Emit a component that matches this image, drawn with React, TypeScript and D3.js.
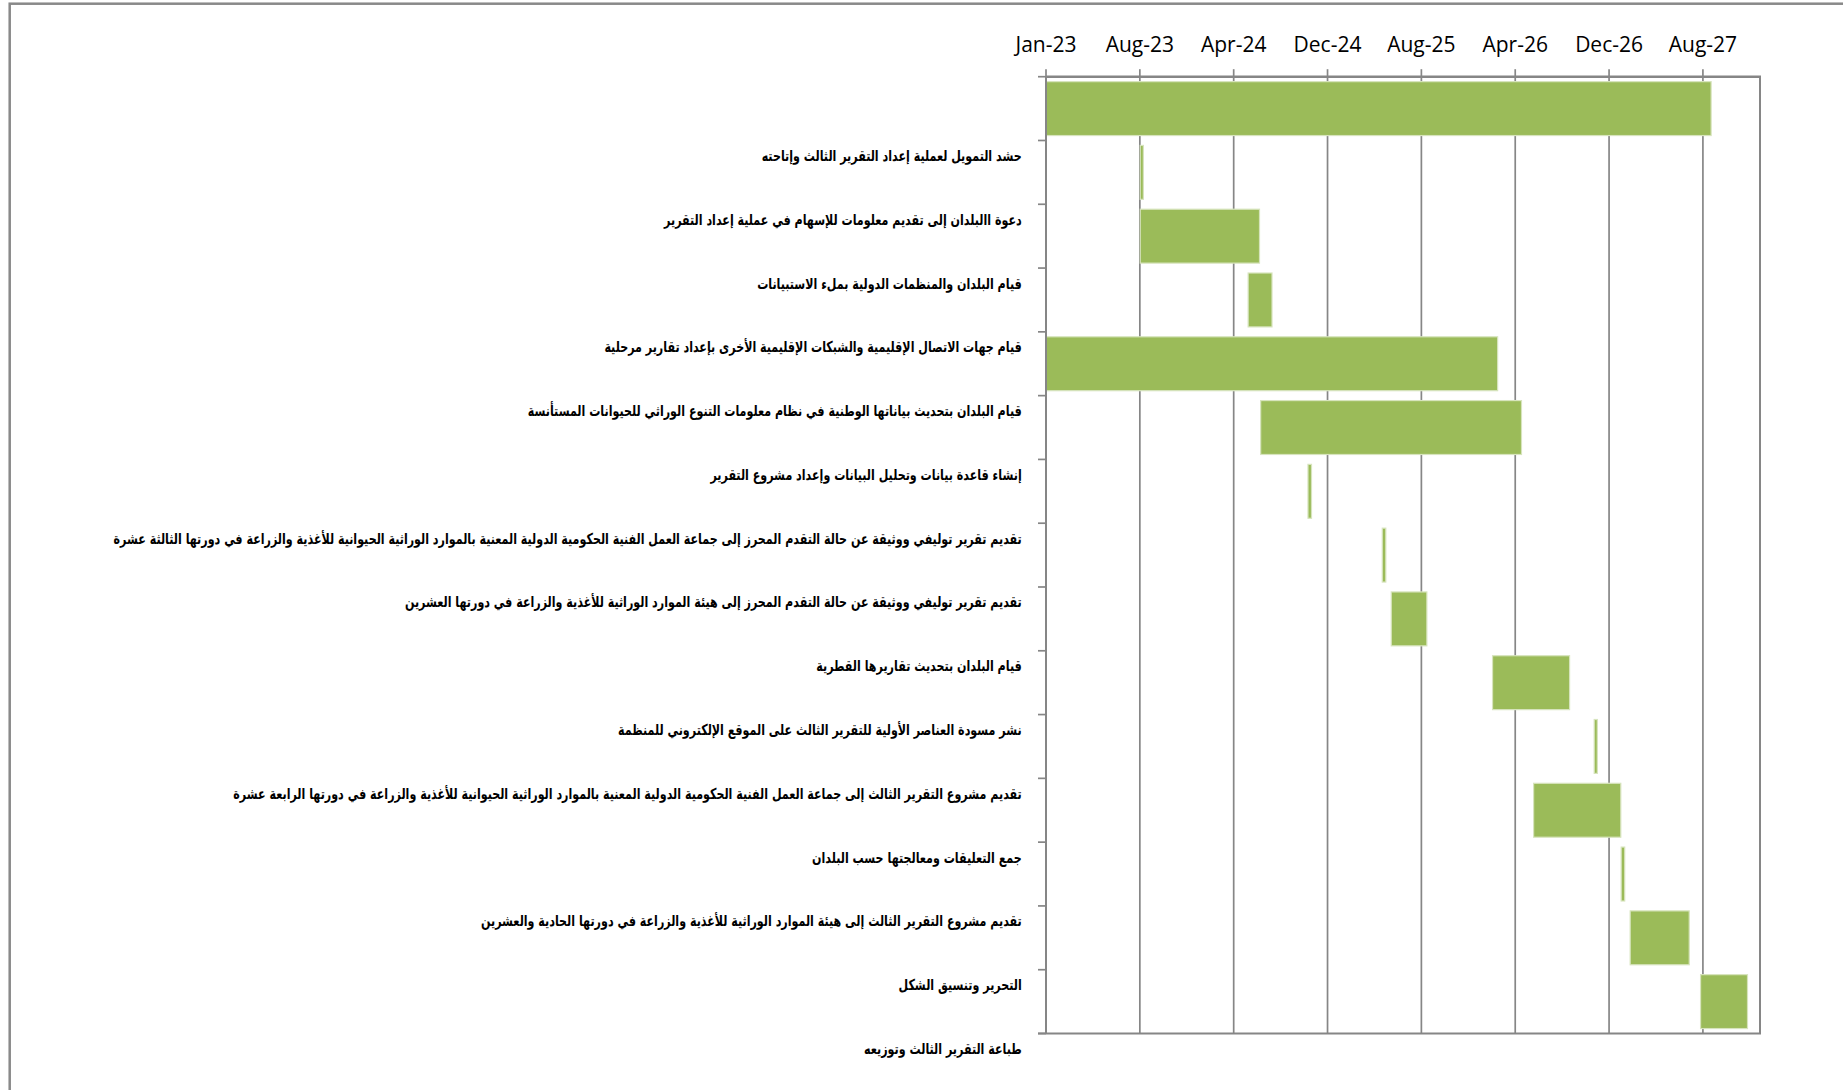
import React from "react";
import * as d3 from "d3";

// ---- data ----
const tasks: string[] = [
  "حشد التمويل لعملية إعداد التقرير الثالث وإتاحته",
  "دعوة االبلدان إلى تقديم معلومات للإسهام في عملية إعداد التقرير",
  "قيام البلدان والمنظمات الدولية بملء الاستبيانات",
  "قيام جهات الاتصال الإقليمية والشبكات الإقليمية الأخرى بإعداد تقارير مرحلية",
  "قيام البلدان بتحديث بياناتها الوطنية في نظام معلومات التنوع الوراثي للحيوانات المستأنسة",
  "إنشاء قاعدة بيانات وتحليل البيانات وإعداد مشروع التقرير",
  "تقديم تقرير توليفي ووثيقة عن حالة التقدم المحرز إلى جماعة العمل الفنية الحكومية الدولية المعنية بالموارد الوراثية الحيوانية للأغذية والزراعة في دورتها الثالثة عشرة",
  "تقديم تقرير توليفي ووثيقة عن حالة التقدم المحرز إلى هيئة الموارد الوراثية للأغذية والزراعة في دورتها العشرين",
  "قيام البلدان بتحديث تقاريرها القطرية",
  "نشر مسودة العناصر الأولية للتقرير الثالث على الموقع الإلكتروني للمنظمة",
  "تقديم مشروع التقرير الثالث إلى جماعة العمل الفنية الحكومية الدولية المعنية بالموارد الوراثية الحيوانية للأغذية والزراعة في دورتها الرابعة عشرة",
  "جمع التعليقات ومعالجتها حسب البلدان",
  "تقديم مشروع التقرير الثالث إلى هيئة الموارد الوراثية للأغذية والزراعة في دورتها الحادية والعشرين",
  "التحرير وتنسيق الشكل",
  "طباعة التقرير الثالث وتوزيعه",
];

const startDates: string[] = [
  "2023-01-01", "2023-08-30", "2023-08-30", "2024-06-01", "2023-01-01",
  "2024-07-03", "2024-11-01", "2025-05-10", "2025-06-02", "2026-02-16",
  "2026-11-03", "2026-06-01", "2027-01-11", "2027-02-03", "2027-08-02",
];

const endDates: string[] = [
  "2027-08-29", "2023-09-07", "2024-06-30", "2024-08-01", "2026-03-01",
  "2026-05-01", "2024-11-10", "2025-05-19", "2025-09-01", "2026-09-01",
  "2026-11-11", "2027-01-10", "2027-01-20", "2027-07-04", "2027-11-30",
];

const axisStart = "2023-01-01";
const axisEnd = "2028-01-01";
const tickStepDays = 240;
const tickCount = 8;

// ---- layout ----
const W = 1843;
const H = 1090;
const plotLeft = 1046;
const plotRight = 1760;
const plotTop = 76.7;
const plotBottom = 1033.5;
const labelRight = 1021.7;
const GRID = "#868686";
const BAR = "#9bbb59";
const BAR_EDGE = "#d7e4bd";

export default function App() {
  const parse = d3.utcParse("%Y-%m-%d");
  const t0 = parse(axisStart) as Date;
  const t1 = parse(axisEnd) as Date;
  const x = d3.scaleUtc().domain([t0, t1]).range([plotLeft, plotRight]);
  const y = d3
    .scaleBand<string>()
    .domain(tasks)
    .range([plotTop, plotBottom])
    .paddingInner(0.155)
    .paddingOuter(0.0775);
  const step = y.step();
  const bw = y.bandwidth();
  const ticks = d3.range(tickCount).map((i) => d3.utcDay.offset(t0, i * tickStepDays));
  const fmt = d3.utcFormat("%b-%y");
  const boundaries = d3.range(tasks.length + 1).map((i) => plotTop + i * step);

  return (
    <svg
      width={W}
      height={H}
      style={{ position: "absolute", left: 0, top: 0, display: "block", background: "#fff" }}
    >
      {/* outer chart frame */}
      <rect x={9.7} y={3.7} width={W + 100} height={H + 100} fill="#fff" stroke="#898989" strokeWidth={2.5} />

      {/* vertical gridlines */}
      {ticks.map((t, i) => (
        <line key={"g" + i} x1={x(t)} x2={x(t)} y1={plotTop} y2={plotBottom} stroke={GRID} strokeWidth={1.7} />
      ))}

      {/* bars */}
      {tasks.map((task, i) => {
        const s = parse(startDates[i]) as Date;
        const e = parse(endDates[i]) as Date;
        return (
          <rect
            key={"b" + i}
            x={x(s)}
            y={y(task) as number}
            width={Math.max(1, x(e) - x(s))}
            height={bw}
            fill={BAR}
            stroke={BAR_EDGE}
            strokeWidth={1.2}
          />
        );
      })}

      {/* plot border: top, right, bottom */}
      <line x1={plotLeft} x2={plotRight + 1} y1={plotTop} y2={plotTop} stroke={GRID} strokeWidth={2.5} />
      <line x1={plotRight} x2={plotRight} y1={plotTop} y2={plotBottom} stroke={GRID} strokeWidth={2} />
      <line x1={plotLeft - 8} x2={plotRight + 1} y1={plotBottom} y2={plotBottom} stroke={GRID} strokeWidth={2.2} />
      {/* left category axis */}
      <line x1={plotLeft} x2={plotLeft} y1={plotTop} y2={plotBottom} stroke={GRID} strokeWidth={2} />
      {boundaries.map((b, i) => (
        <line key={"ct" + i} x1={plotLeft - 8} x2={plotLeft} y1={b} y2={b} stroke={GRID} strokeWidth={1.7} />
      ))}

      {/* top date ticks and labels */}
      {ticks.map((t, i) => (
        <g key={"t" + i}>
          <line x1={x(t)} x2={x(t)} y1={plotTop - 7.5} y2={plotTop} stroke={GRID} strokeWidth={1.7} />
          <text
            x={x(t)}
            y={52.3}
            textAnchor="middle"
            fontFamily="'Open Sans', 'Liberation Sans', sans-serif"
            fontSize={21}
            fill="#000"
          >
            {fmt(t)}
          </text>
        </g>
      ))}

      {/* task labels (offset below their rows as in the source) */}
      {tasks.map((task, i) => (
        <text
          key={"l" + i}
          transform={`translate(${labelRight},${(y(task) as number) - (step - bw) / 2 + step * 1.25}) scale(0.74,1)`}
          x={0}
          y={0}
          textAnchor="end"
          dominantBaseline="middle"
          fontFamily="'DejaVu Sans', 'Noto Sans', serif"
          fontWeight="bold"
          fontSize={15}
          fill="#000"
        >
          {task}
        </text>
      ))}
    </svg>
  );
}
